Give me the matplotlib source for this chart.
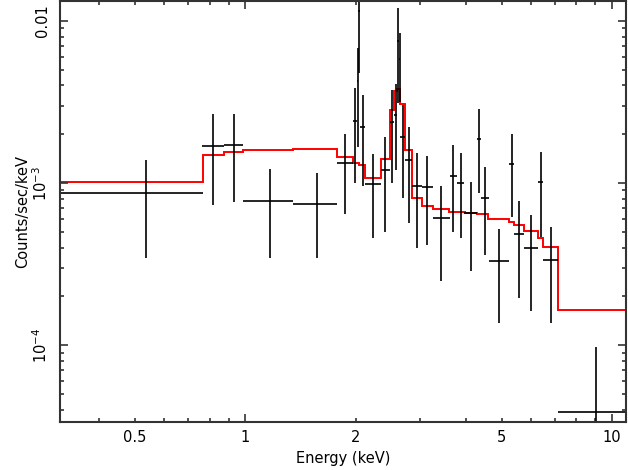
import numpy as np
import matplotlib
matplotlib.use("Agg")
import matplotlib.pyplot as plt
from matplotlib.ticker import FixedLocator, FuncFormatter

# ---------------------------------------------------------------
# observed spectrum: bin edges (keV), rate and 1-sigma error
# ---------------------------------------------------------------
e_lo = [0.31, 0.7605, 0.8747, 0.9875, 1.352, 1.782, 1.963, 2.020, 2.035,
        2.060, 2.121, 2.340, 2.480, 2.544, 2.600, 2.625, 2.645, 2.726,
        2.854, 3.033, 3.240, 3.616, 3.771, 3.956, 4.293, 4.394, 4.620,
        5.248, 5.406, 5.754, 6.303, 6.484, 7.112]
e_hi = [0.765, 0.8747, 0.9875, 1.352, 1.782, 1.963, 2.020, 2.035, 2.060,
        2.121, 2.340, 2.480, 2.544, 2.600, 2.625, 2.645, 2.726, 2.854,
        3.033, 3.240, 3.616, 3.771, 3.956, 4.293, 4.394, 4.620, 5.248,
        5.406, 5.754, 6.303, 6.484, 7.112, 10.95]
rate = [8.65e-4, 1.70e-3, 1.72e-3, 7.80e-4, 7.45e-4, 1.32e-3, 2.42e-3,
        4.23e-3, 1.152e-2, 2.23e-3, 9.89e-4, 1.21e-3, 2.37e-3, 2.64e-3,
        7.53e-3, 5.81e-3, 1.91e-3, 1.39e-3, 9.65e-4, 9.42e-4, 6.07e-4,
        1.11e-3, 1.00e-3, 6.52e-4, 1.865e-3, 8.11e-4, 3.29e-4, 1.31e-3,
        4.87e-4, 3.99e-4, 1.01e-3, 3.37e-4, 3.89e-5]
rate_err = [5.2e-4, 9.7e-4, 9.55e-4, 4.33e-4, 4.0e-4, 6.77e-4, 1.42e-3,
            2.57e-3, 6.78e-3, 1.265e-3, 5.3e-4, 7.13e-4, 1.37e-3, 1.435e-3,
            4.43e-3, 2.66e-3, 1.1e-3, 8.2e-4, 5.7e-4, 5.27e-4, 3.57e-4,
            6.13e-4, 5.4e-4, 3.66e-4, 1.0e-3, 4.51e-4, 1.92e-4, 6.97e-4,
            2.91e-4, 2.37e-4, 5.45e-4, 2.0e-4, 5.87e-5]

# ---------------------------------------------------------------
# folded model (step histogram)
# ---------------------------------------------------------------
model_edges = [0.30, 0.765, 0.8747, 0.9875, 1.352, 1.782, 1.963, 2.046,
               2.117, 2.340, 2.480, 2.544, 2.600, 2.645, 2.730, 2.854,
               3.033, 3.240, 3.600, 3.771, 3.973, 4.293, 4.600, 5.248,
               5.406, 5.754, 6.303, 6.484, 7.112, 11.5]
model_vals = [1.021e-3, 1.483e-3, 1.547e-3, 1.607e-3, 1.623e-3, 1.441e-3,
              1.323e-3, 1.294e-3, 1.076e-3, 1.41e-3, 2.82e-3, 3.67e-3,
              3.80e-3, 3.07e-3, 1.607e-3, 8.11e-4, 7.17e-4, 6.87e-4,
              6.67e-4, 6.61e-4, 6.52e-4, 6.40e-4, 6.00e-4, 5.74e-4,
              5.53e-4, 5.03e-4, 4.60e-4, 4.03e-4, 1.658e-4]

x_ticklabels = {0.5: "0.5", 1: "1", 2: "2", 5: "5", 10: "10"}
y_ticklabels = {1e-2: "0.01", 1e-3: "$10^{-3}$", 1e-4: "$10^{-4}$"}

plt.rcParams["font.family"] = ["DejaVu Sans"]
plt.rcParams["mathtext.fontset"] = "dejavusans"

fig = plt.figure(figsize=(6.28, 4.70), dpi=100)
ax = fig.add_axes([60 / 628, 1 - 421.7 / 470, 566 / 628, 420.7 / 470])

lo = np.array(e_lo)
hi = np.array(e_hi)
cen = (lo + hi) / 2
ax.errorbar(cen, rate, xerr=[cen - lo, hi - cen], yerr=rate_err,
            fmt="none", ecolor="black", elinewidth=1.2, capsize=0)

ax.stairs(model_vals, model_edges, baseline=None, color="red", lw=1.4)

ax.set_xscale("log")
ax.set_yscale("log")
ax.set_xlim(0.3124, 10.92)
ax.set_ylim(3.37e-5, 1.327e-2)

# ticks: long at decades, short elsewhere, all pointing inwards
ax.xaxis.set_major_locator(FixedLocator([1, 10]))
ax.xaxis.set_minor_locator(FixedLocator([0.4, 0.5, 0.6, 0.7, 0.8, 0.9,
                                         2, 3, 4, 5, 6, 7, 8, 9]))
fmt_x = FuncFormatter(lambda v, p: x_ticklabels.get(round(v, 3), ""))
ax.xaxis.set_major_formatter(fmt_x)
ax.xaxis.set_minor_formatter(fmt_x)

ax.yaxis.set_major_locator(FixedLocator([1e-4, 1e-3, 1e-2]))
ax.yaxis.set_minor_locator(FixedLocator(
    [m * 10.0 ** k for k in (-5, -4, -3, -2) for m in range(2, 10)]))
ax.yaxis.set_major_formatter(FuncFormatter(
    lambda v, p: next((s for k, s in y_ticklabels.items()
                       if abs(v / k - 1) < 1e-6), "")))
ax.yaxis.set_minor_formatter(FuncFormatter(lambda v, p: ""))

ax.tick_params(which="both", direction="in", top=True, right=True,
               color="#333333", width=1.2, labelsize=10.5)
ax.tick_params(which="major", length=5.8)
ax.tick_params(which="minor", length=2.9)
ax.tick_params(axis="x", which="both", pad=6)
ax.tick_params(axis="y", which="both", pad=7, labelrotation=90)
for lab in ax.get_yticklabels():
    lab.set_va("center")

for s in ax.spines.values():
    s.set_color("#333333")
    s.set_linewidth(1.5)

ax.set_xlabel("Energy (keV)", fontsize=10.5, labelpad=4)
ax.set_ylabel("Counts/sec/keV", fontsize=10.5, labelpad=1)

fig.savefig("out.png", dpi=100)
